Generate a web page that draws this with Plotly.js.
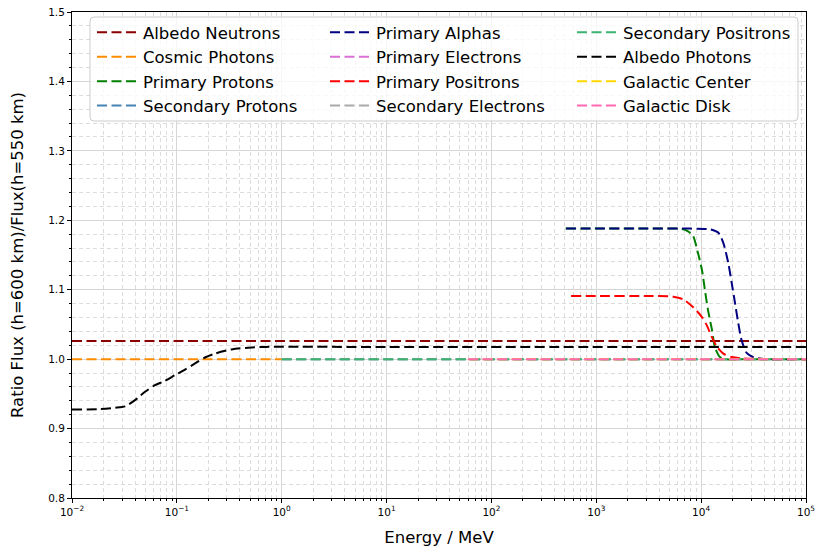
<!DOCTYPE html>
<html>
<head>
<meta charset="utf-8">
<script src="https://cdn.plot.ly/plotly-3.0.1.min.js"></script>
<style>html,body{margin:0;padding:0;background:#fff;}#chart{width:817px;height:547px;}</style>
</head>
<body>
<div id="chart"></div>
<script>
// ---- data (energy in MeV, ratio flux 600 km / 550 km) ----
const energyAlbedoNeutrons = [0.01, 1e5];
const ratioAlbedoNeutrons  = [1.026, 1.026];

const energyCosmicPhotons = [0.01, 1];
const ratioCosmicPhotons  = [1.0, 1.0];

const energyPrimaryProtons = [510, 1000, 3000, 6000, 6760, 7500, 8350, 9330, 10190, 10880, 11620, 12690, 13540, 15100, 17000, 30000, 1e5];
const ratioPrimaryProtons  = [1.188, 1.188, 1.188, 1.188, 1.187, 1.184, 1.178, 1.153, 1.128, 1.099, 1.071, 1.042, 1.017, 1.003, 1.0, 1.0, 1.0];

const energySecondaryProtons = [1, 1e5];
const ratioSecondaryProtons  = [1.0, 1.0];

const energyPrimaryAlphas = [515, 1000, 3000, 8000, 12130, 14600, 16300, 18170, 19550, 21030, 22600, 24330, 27150, 31420, 40000, 1e5];
const ratioPrimaryAlphas  = [1.188, 1.188, 1.188, 1.188, 1.187, 1.182, 1.167, 1.138, 1.110, 1.081, 1.052, 1.027, 1.009, 1.003, 1.0, 1.0];

const energyPrimaryElectrons = [60, 1e5];
const ratioPrimaryElectrons  = [1.0, 1.0];

const energyPrimaryPositrons = [575, 1000, 3000, 5420, 6760, 8350, 10130, 11300, 12620, 14130, 16300, 19550, 25200, 1e5];
const ratioPrimaryPositrons  = [1.091, 1.091, 1.091, 1.090, 1.086, 1.075, 1.061, 1.049, 1.032, 1.018, 1.008, 1.003, 1.001, 1.0];

const energySecondaryElectrons = [1, 1e5];
const ratioSecondaryElectrons  = [1.0, 1.0];

const energySecondaryPositrons = [1, 1e5];
const ratioSecondaryPositrons  = [1.0, 1.0];

const energyAlbedoPhotons = [0.01, 0.0178, 0.0257, 0.032, 0.0399, 0.0497, 0.0619, 0.0771, 0.096, 0.1197, 0.149, 0.1855, 0.231, 0.333, 0.517, 0.693, 1.0, 10, 1e5];
const ratioAlbedoPhotons  = [0.9275, 0.928, 0.930, 0.932, 0.941, 0.953, 0.9625, 0.9688, 0.977, 0.985, 0.9938, 1.0024, 1.008, 1.014, 1.0169, 1.0176, 1.0178, 1.0175, 1.0175];

const energyGalacticCenter = [60, 1e5];
const ratioGalacticCenter  = [1.0, 1.0];

const energyGalacticDisk = [60, 1e5];
const ratioGalacticDisk  = [1.0, 1.0];

const tickValuesX = [0.01, 0.1, 1, 10, 100, 1000, 10000, 100000];
const tickLabelsX = ['10<sup>−2</sup>', '10<sup>−1</sup>', '10<sup>0</sup>', '10<sup>1</sup>', '10<sup>2</sup>', '10<sup>3</sup>', '10<sup>4</sup>', '10<sup>5</sup>'];

const seriesNames = ['Albedo Neutrons', 'Cosmic Photons', 'Primary Protons', 'Secondary Protons',
                     'Primary Alphas', 'Primary Electrons', 'Primary Positrons', 'Secondary Electrons',
                     'Secondary Positrons', 'Albedo Photons', 'Galactic Center', 'Galactic Disk'];
const seriesColors = ['#8B0000', '#FF8C00', '#008000', '#4682B4',
                      '#000080', '#DA70D6', '#FF0000', '#A9A9A9',
                      '#3CB371', '#000000', '#FFD700', '#FF69B4'];

const seriesX = [energyAlbedoNeutrons, energyCosmicPhotons, energyPrimaryProtons, energySecondaryProtons,
                 energyPrimaryAlphas, energyPrimaryElectrons, energyPrimaryPositrons, energySecondaryElectrons,
                 energySecondaryPositrons, energyAlbedoPhotons, energyGalacticCenter, energyGalacticDisk];
const seriesY = [ratioAlbedoNeutrons, ratioCosmicPhotons, ratioPrimaryProtons, ratioSecondaryProtons,
                 ratioPrimaryAlphas, ratioPrimaryElectrons, ratioPrimaryPositrons, ratioSecondaryElectrons,
                 ratioSecondaryPositrons, ratioAlbedoPhotons, ratioGalacticCenter, ratioGalacticDisk];

const legendIds = ['legend', 'legend2', 'legend3'];

const traces = seriesNames.map((name, i) => ({
  type: 'scatter',
  mode: 'lines',
  name: name,
  x: seriesX[i],
  y: seriesY[i],
  line: {color: seriesColors[i], width: 2, dash: '10px,4.5px', shape: 'spline', smoothing: 0.7},
  legend: legendIds[Math.floor(i / 4)],
  hoverinfo: 'x+y+name'
}));

const W = 817, H = 547;
const FONT = 'DejaVu Sans, sans-serif';
const px0 = 72, px1 = 806, py0 = 12, py1 = 498;
function toPx(x) { return (x - px0) / (px1 - px0); }
function toPy(y) { return (py1 - y) / (py1 - py0); }

function legendAt(px, py) {
  return {
    xref: 'paper', yref: 'paper',
    x: toPx(px), y: toPy(py), xanchor: 'left', yanchor: 'top',
    bgcolor: 'rgba(0,0,0,0)', borderwidth: 0,
    font: {family: FONT, size: 16.5, color: '#000'},
    itemwidth: 41,
    tracegroupgap: 0
  };
}

// rounded legend frame in paper coords
const fx0 = toPx(90), fx1 = toPx(798), fy0 = toPy(121), fy1 = toPy(17);
const rx = 4 / (px1 - px0), ry = 4 / (py1 - py0);
const framePath = `M${fx0 + rx},${fy0} L${fx1 - rx},${fy0} Q${fx1},${fy0} ${fx1},${fy0 + ry} ` +
                  `L${fx1},${fy1 - ry} Q${fx1},${fy1} ${fx1 - rx},${fy1} L${fx0 + rx},${fy1} ` +
                  `Q${fx0},${fy1} ${fx0},${fy1 - ry} L${fx0},${fy0 + ry} Q${fx0},${fy0} ${fx0 + rx},${fy0} Z`;

const layout = {
  width: W, height: H,
  margin: {l: 72, r: 11, t: 12, b: 49, pad: 0, autoexpand: false},
  paper_bgcolor: '#fff', plot_bgcolor: '#fff',
  font: {family: FONT, size: 10, color: '#000'},
  showlegend: true,
  legend: legendAt(92, 15),
  legend2: legendAt(325, 15),
  legend3: legendAt(572, 15),
  xaxis: {
    type: 'log', range: [-2, 5], automargin: false,
    tickmode: 'array', tickvals: tickValuesX, ticktext: tickLabelsX,
    ticks: 'outside', ticklen: 4, tickwidth: 1, tickcolor: '#000',
    tickfont: {family: FONT, size: 10.5, color: '#000'},
    showline: true, linecolor: '#000', linewidth: 1, mirror: true,
    showgrid: true, gridcolor: '#d6d6d6', gridwidth: 1,
    zeroline: false,
    minor: {tickmode: 'linear', dtick: 'D1', ticks: 'outside', ticklen: 2, tickcolor: '#000',
            showgrid: true, gridcolor: '#dcdcdc', griddash: '4px,3px', gridwidth: 1},
    title: {text: 'Energy / MeV', font: {family: FONT, size: 16.5, color: '#000'}, standoff: 14}
  },
  yaxis: {
    range: [0.8, 1.5], tickmode: 'linear', tick0: 0.8, dtick: 0.1, tickformat: '.1f', automargin: false,
    ticks: 'outside', ticklen: 4, tickwidth: 1, tickcolor: '#000',
    tickfont: {family: FONT, size: 10.5, color: '#000'},
    showline: true, linecolor: '#000', linewidth: 1, mirror: true,
    showgrid: true, gridcolor: '#d6d6d6', gridwidth: 1,
    zeroline: false,
    minor: {tickmode: 'linear', dtick: 0.02, ticks: 'outside', ticklen: 2, tickcolor: '#000',
            showgrid: true, gridcolor: '#dcdcdc', griddash: '4px,3px', gridwidth: 1},
    title: {text: 'Ratio Flux (h=600 km)/Flux(h=550 km)', font: {family: FONT, size: 16.5, color: '#000'}, standoff: 20}
  },
  shapes: [{
    type: 'path', xref: 'paper', yref: 'paper', layer: 'above',
    path: framePath,
    fillcolor: 'rgba(255,255,255,0.8)',
    line: {color: '#cccccc', width: 1}
  }]
};

Plotly.newPlot('chart', traces, layout, {displayModeBar: false, staticPlot: true});
</script>
</body>
</html>
